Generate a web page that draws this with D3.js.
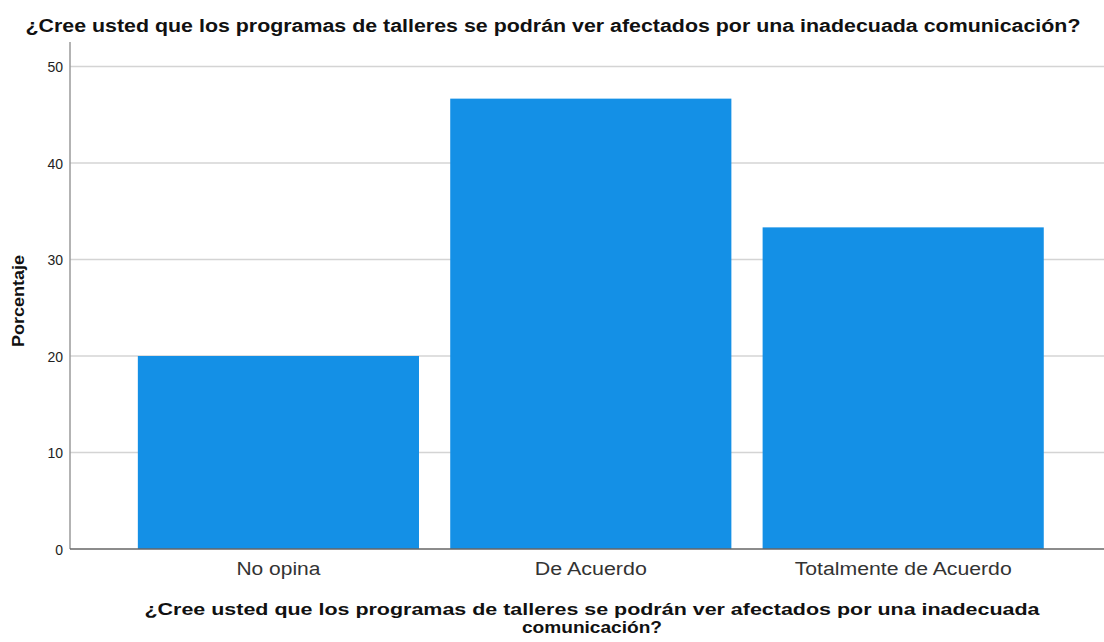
<!DOCTYPE html>
<html><head><meta charset="utf-8">
<script src="https://cdn.jsdelivr.net/npm/d3@7"></script>
<style>body{margin:0;background:#fff;} svg{display:block;font-family:"Liberation Sans",Arial,sans-serif;}</style>
</head><body><svg id="c" width="1104" height="642"></svg>
<script>
const categories = ["No opina", "De Acuerdo", "Totalmente de Acuerdo"];
const values = [20.0, 46.67, 33.33];
const yTicks = [0, 10, 20, 30, 40, 50];
const titleText = "¿Cree usted que los programas de talleres se podrán ver afectados por una inadecuada comunicación?";
const xTitleLines = ["¿Cree usted que los programas de talleres se podrán ver afectados por una inadecuada", "comunicación?"];
const yTitle = "Porcentaje";

(function(){
const svg = d3.select("#c");
const pLeft = 70, pRight = 1104, pTop = 42, pBottom = 549;
const y = d3.scaleLinear().domain([0, 50]).range([pBottom, 66.5]);
const x = d3.scaleBand().domain(categories).range([106.6, 1075]).padding(0.1);
const catWidths = {"No opina": 84, "De Acuerdo": 112, "Totalmente de Acuerdo": 217};

svg.append("g").selectAll("line").data(yTicks.filter(d => d > 0)).join("line")
  .attr("x1", pLeft).attr("x2", pRight).attr("y1", d => y(d)).attr("y2", d => y(d))
  .attr("stroke", "#d4d4d4").attr("stroke-width", 1.5);

svg.append("g").selectAll("rect").data(values).join("rect")
  .attr("x", (d, i) => x(categories[i])).attr("width", x.bandwidth())
  .attr("y", d => y(d)).attr("height", d => pBottom - y(d))
  .attr("fill", "#1490e6");

const ya = svg.append("g").attr("transform", `translate(${pLeft},0)`)
  .call(d3.axisLeft(y).tickValues(yTicks).tickSize(0).tickPadding(7));
ya.select(".domain").remove();
ya.attr("font-size", null).attr("font-family", null);
ya.selectAll("text").style("font-size", "14px").attr("fill", "#222").attr("dy", "0.36em");
svg.append("line").attr("x1", pLeft).attr("x2", pLeft).attr("y1", pTop).attr("y2", pBottom)
  .attr("stroke", "#9a9a9a").attr("stroke-width", 1.5);

const xa = svg.append("g").attr("transform", `translate(0,${pBottom})`)
  .call(d3.axisBottom(x).tickSize(0).tickPadding(0));
xa.select(".domain").remove();
xa.attr("font-size", null).attr("font-family", null);
xa.selectAll("text").style("font-size", "18px").attr("fill", "#333").attr("dy", null).attr("y", 25.5)
  .attr("textLength", d => catWidths[d]).attr("lengthAdjust", "spacingAndGlyphs");
svg.append("line").attr("x1", pLeft).attr("x2", pRight).attr("y1", pBottom).attr("y2", pBottom)
  .attr("stroke", "#666").attr("stroke-width", 1.5);

svg.append("text").attr("x", 553).attr("y", 32).attr("text-anchor", "middle")
  .style("font-size", "18px").attr("font-weight", "bold").attr("fill", "#111")
  .attr("textLength", 1055).attr("lengthAdjust", "spacingAndGlyphs").text(titleText);

svg.append("text").attr("x", 592).attr("y", 615).attr("text-anchor", "middle")
  .style("font-size", "16px").attr("font-weight", "bold").attr("fill", "#111")
  .attr("textLength", 895).attr("lengthAdjust", "spacingAndGlyphs").text(xTitleLines[0]);
svg.append("text").attr("x", 592).attr("y", 633).attr("text-anchor", "middle")
  .style("font-size", "16px").attr("font-weight", "bold").attr("fill", "#111")
  .attr("textLength", 140).attr("lengthAdjust", "spacingAndGlyphs").text(xTitleLines[1]);

svg.append("text").attr("transform", "translate(24,301) rotate(-90)").attr("text-anchor", "middle")
  .style("font-size", "16px").attr("font-weight", "bold").attr("fill", "#111")
  .attr("textLength", 92).attr("lengthAdjust", "spacingAndGlyphs").text(yTitle);
})();
</script></body></html>
